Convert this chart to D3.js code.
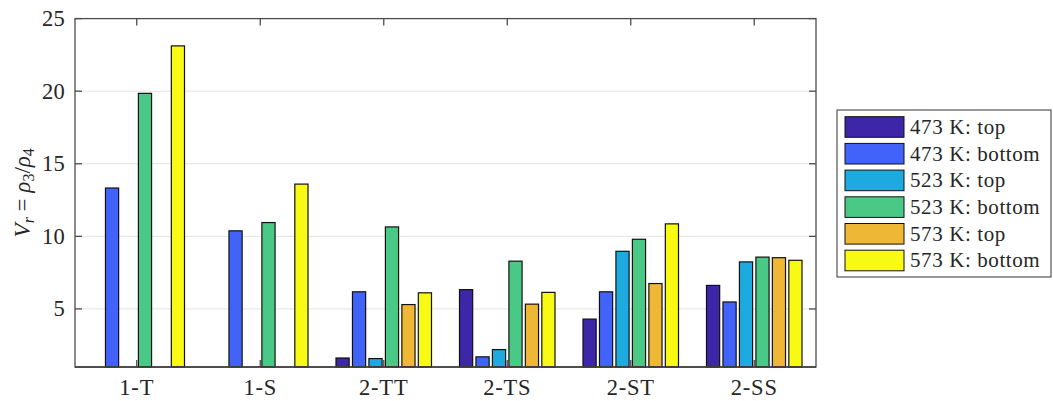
<!DOCTYPE html>
<html>
<head>
<meta charset="utf-8">
<script src="https://cdn.jsdelivr.net/npm/d3@7"></script>
<style>
  html, body { margin: 0; padding: 0; background: #fff; }
  svg { display: block; }
</style>
</head>
<body>
<svg id="chart" width="1053" height="401" font-family="'Liberation Serif', 'DejaVu Serif', serif"></svg>
<script>
// ---- data ----
const categories = ["1-T", "1-S", "2-TT", "2-TS", "2-ST", "2-SS"];
const seriesNames = ["473 K: top", "473 K: bottom", "523 K: top", "523 K: bottom", "573 K: top", "573 K: bottom"];
const s473top    = [0,     0,     1.62, 6.33, 4.30, 6.62];
const s473bottom = [13.33, 10.38, 6.18, 1.70, 6.18, 5.48];
const s523top    = [0,     0,     1.58, 2.20, 8.97, 8.24];
const s523bottom = [19.85, 10.95, 10.65, 8.29, 9.80, 8.57];
const s573top    = [0,     0,     5.30, 5.33, 6.75, 8.53];
const s573bottom = [23.12, 13.60, 6.11, 6.14, 10.86, 8.35];
const yTicks = [5, 10, 15, 20, 25];
const colors = ["#3e26a8", "#4163fa", "#1caadf", "#4ac986", "#eeb735", "#f9fa14"];

const series = [s473top, s473bottom, s523top, s523bottom, s573top, s573bottom];

// ---- layout ----
const svg = d3.select("#chart");
const L = 75, R = 816, T = 18.6, B = 367;
const yMin = 1, yMax = 25;
const textColor = "#262626";
const fontFam = "'Liberation Serif', 'DejaVu Serif', serif";

const x = d3.scaleLinear().domain([0.5, categories.length + 0.5]).range([L, R]);
const y = d3.scaleLinear().domain([yMin, yMax]).range([B, T]);

const axisColor = "#4d4d4d";

// grid lines
svg.append("g").selectAll("line").data(yTicks.filter(t => t < yMax)).join("line")
  .attr("x1", L).attr("x2", R)
  .attr("y1", d => y(d)).attr("y2", d => y(d))
  .attr("stroke", "#e3e3e3").attr("stroke-width", 1);

// bars
const nS = series.length;
const unit = x(1) - x(0);
const binW = unit * 0.8 / nS;
const barW = binW * 0.8;

const barG = svg.append("g");
series.forEach((vals, j) => {
  barG.append("g").selectAll("rect").data(vals).join("rect")
    .attr("x", (d, i) => x(i + 1) + (j - (nS - 1) / 2) * binW - barW / 2)
    .attr("width", barW)
    .attr("y", d => y(Math.max(d, yMin)))
    .attr("height", d => Math.max(0, y(yMin) - y(Math.max(d, yMin))))
    .attr("fill", colors[j])
    .attr("stroke", "#111")
    .attr("stroke-width", 1.2);
});

// axes box
svg.append("rect").attr("x", L).attr("y", T).attr("width", R - L).attr("height", B - T)
  .attr("fill", "none").attr("stroke", axisColor).attr("stroke-width", 1.3);

// y ticks (left & right, inward)
const tickLen = 7;
svg.append("g").selectAll("line").data(yTicks).join("line")
  .attr("x1", L).attr("x2", L + tickLen)
  .attr("y1", d => y(d)).attr("y2", d => y(d))
  .attr("stroke", axisColor).attr("stroke-width", 1.3);
svg.append("g").selectAll("line").data(yTicks).join("line")
  .attr("x1", R - tickLen).attr("x2", R)
  .attr("y1", d => y(d)).attr("y2", d => y(d))
  .attr("stroke", axisColor).attr("stroke-width", 1.3);

// x ticks (bottom & top, inward)
const cats = categories.map((c, i) => i + 1);
svg.append("g").selectAll("line").data(cats).join("line")
  .attr("x1", d => x(d)).attr("x2", d => x(d))
  .attr("y1", B).attr("y2", B - tickLen)
  .attr("stroke", axisColor).attr("stroke-width", 1.3);
svg.append("g").selectAll("line").data(cats).join("line")
  .attr("x1", d => x(d)).attr("x2", d => x(d))
  .attr("y1", T).attr("y2", T + tickLen)
  .attr("stroke", axisColor).attr("stroke-width", 1.3);

// baseline (darker)
svg.append("line").attr("x1", L).attr("x2", R).attr("y1", B).attr("y2", B)
  .attr("stroke", "#3a3a3a").attr("stroke-width", 1.6);

// y tick labels
svg.append("g").selectAll("text").data(yTicks).join("text")
  .attr("x", 65).attr("y", d => y(d)).attr("dy", "0.33em")
  .attr("text-anchor", "end").attr("font-size", 22.5).attr("letter-spacing", 0.3)
  .attr("font-family", fontFam).attr("fill", textColor)
  .text(d => d);

// x tick labels
svg.append("g").selectAll("text").data(categories).join("text")
  .attr("x", (d, i) => x(i + 1)).attr("y", 395)
  .attr("text-anchor", "middle").attr("font-size", 22.5).attr("letter-spacing", 0.8)
  .attr("font-family", fontFam).attr("fill", textColor)
  .text(d => d);

// y label
const yl = svg.append("text")
  .attr("transform", `translate(30,${(T + B) / 2}) rotate(-90)`)
  .attr("text-anchor", "middle").attr("font-size", 23)
  .attr("font-family", fontFam).attr("fill", textColor);
yl.append("tspan").attr("font-style", "italic").text("V");
yl.append("tspan").attr("font-style", "italic").attr("font-size", 16).attr("dy", 4).text("r");
yl.append("tspan").attr("dy", -4).text(" = ");
yl.append("tspan").attr("font-style", "italic").text("ρ");
yl.append("tspan").attr("font-size", 16).attr("dy", 4).text("3");
yl.append("tspan").attr("dy", -4).text("/");
yl.append("tspan").attr("font-style", "italic").text("ρ");
yl.append("tspan").attr("font-size", 16).attr("dy", 4).text("4");

// legend
const lg = svg.append("g");
lg.append("rect").attr("x", 837).attr("y", 110).attr("width", 214).attr("height", 167)
  .attr("fill", "#fff").attr("stroke", "#333").attr("stroke-width", 1);
const rowH = 26.7;
seriesNames.forEach((name, j) => {
  const cy = 127 + j * rowH;
  lg.append("rect").attr("x", 845).attr("y", cy - 10.3).attr("width", 59).attr("height", 20.6)
    .attr("fill", colors[j]).attr("stroke", "#111").attr("stroke-width", 1);
  lg.append("text").attr("x", 910).attr("y", cy + 6.8)
    .attr("font-size", 21).attr("letter-spacing", 0.6)
    .attr("font-family", fontFam).attr("fill", textColor)
    .text(name);
});
</script>
</body>
</html>
